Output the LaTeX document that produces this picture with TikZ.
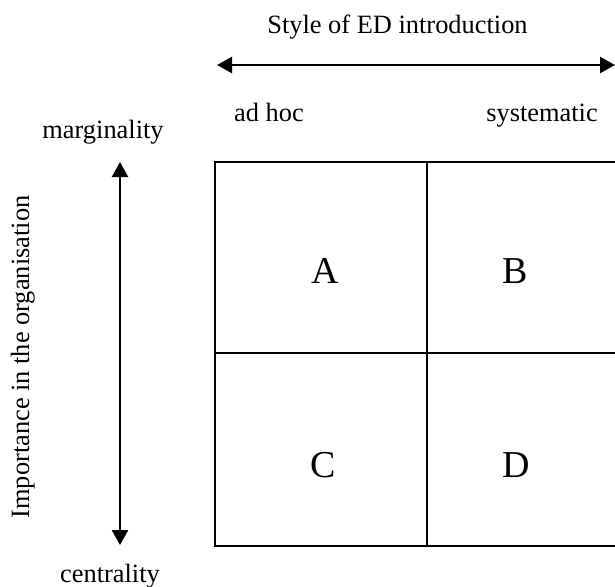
\documentclass[tikz,border=0pt]{standalone}
\usepackage{fontspec}
\setmainfont{Liberation Serif}
\usetikzlibrary{arrows.meta}
\usetikzlibrary{positioning}

\begin{document}
\begin{tikzpicture}[x=0.5pt,y=-0.5pt]
		\tikzset{
			textnode/.style={text=black,inner sep=0pt,anchor=base,font=\fontsize{13.2}{15}\selectfont},
		}
		\tikzset{
			cellnode/.style={text=black,inner sep=0pt,anchor=base,font=\fontsize{19}{22}\selectfont},
		}
		\tikzset{
			edge/.style={color=black,line width=1.2pt,{Triangle[length=7.5pt,width=8pt]}-{Triangle[length=7.5pt,width=8pt]}},
		}
		\tikzset{
			grid/.style={color=black,line width=1pt},
		}
		\newcommand{\gl}{215}
		\newcommand{\gm}{427}
		\newcommand{\gr}{615}
		\newcommand{\gt}{162}
		\newcommand{\gh}{353}
		\newcommand{\gb}{546}
		
		\useasboundingbox (0,0) rectangle (615,586);
		
		\node[textnode] (style) at (397.5, 33) {Style of ED introduction};
		\node[textnode] (adhoc) at (269, 121) {ad hoc};
		\node[textnode] (syst) at (542, 121) {systematic};
		\node[textnode] (marg) at (103, 138) {marginality};
		\node[textnode] (centr) at (110, 582) {centrality};
		\node[textnode,rotate=90] (imp) at (29, 357) {Importance in the organisation};
		
		\coordinate (hw) at (217, 65);
		\coordinate (he) at (615, 65);
		\coordinate (vn) at (120, 162);
		\coordinate (vs) at (120, 545);
		
		\draw[edge] (hw) to (he);
		\draw[edge] (vn) to (vs);
		
		% the four cells
		\draw[grid] (\gr, \gt) -- (\gl, \gt) -- (\gl, \gb) -- (\gr, \gb);
		\draw[grid] (\gm, \gt) -- (\gm, \gb);
		\draw[grid] (\gl, \gh) -- (\gr, \gh);
		
		\node[cellnode] (A) at (325, 283) {A};
		\node[cellnode] (B) at (515, 283) {B};
		\node[cellnode] (C) at (323, 477) {C};
		\node[cellnode] (D) at (516, 477) {D};
	\end{tikzpicture}
\end{document}
